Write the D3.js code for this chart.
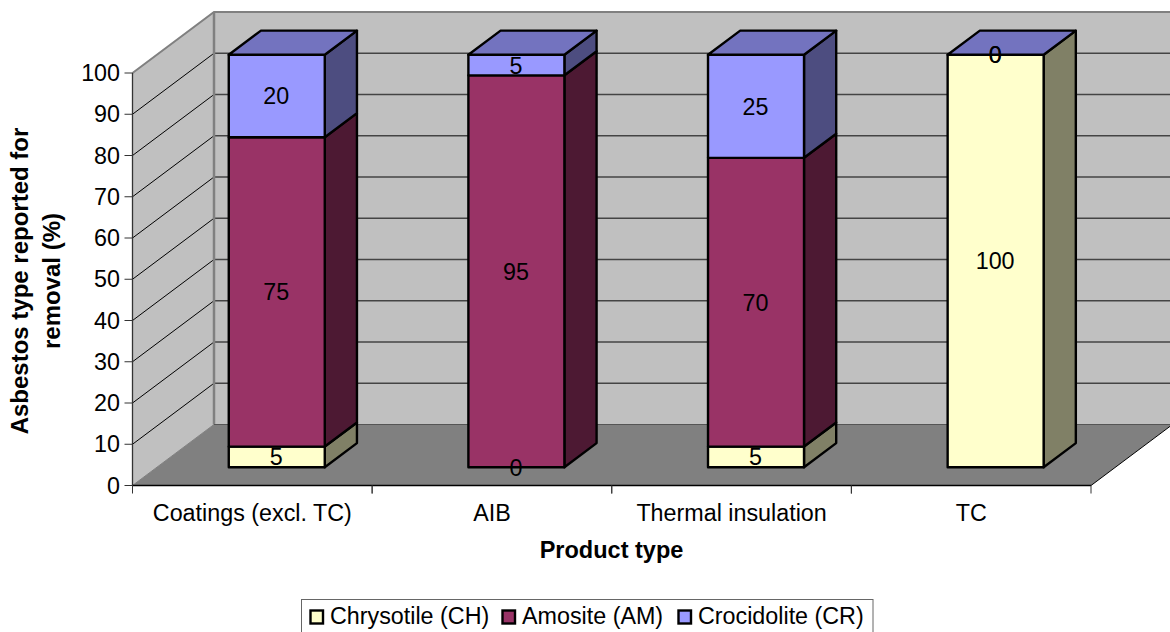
<!DOCTYPE html>
<html><head><meta charset="utf-8">
<script src="https://cdnjs.cloudflare.com/ajax/libs/d3/7.8.5/d3.min.js"></script>
<style>html,body{margin:0;padding:0;background:#fff;overflow:hidden}svg{display:block}text{font-family:"Liberation Sans",Arial,sans-serif;fill:#000}</style>
</head><body><svg id="c" width="1170" height="632"></svg>
<script>
const categories = ["Coatings (excl. TC)", "AIB", "Thermal insulation", "TC"];
const seriesNames = ["Chrysotile (CH)", "Amosite (AM)", "Crocidolite (CR)"];
const chrysotile = [5, 0, 5, 100];
const amosite = [75, 95, 70, 0];
const crocidolite = [20, 5, 25, 0];
const yTicks = [0,10,20,30,40,50,60,70,80,90,100];
const frontColors = ["#ffffcc", "#993366", "#9999ff"];
const sideColors = ["#808066", "#4d1933", "#4d4d80"];
const topColor = "#7373bf";
const series = [chrysotile, amosite, crocidolite];

const svg = d3.select("#c");
const FS = 23.3, FSB = 23.5;
const x = d3.scaleBand().domain(categories).range([132.5, 1091]);
const y = d3.scaleLinear().domain([0, 100]).range([485.5, 73]);
const z = d3.scaleLinear().domain([0, 1]).range([[0, 0], [81.5, -61]]);
const P = (px, py, d) => { const o = z(d); return [px + o[0], py + o[1]]; };
const poly = pts => "M" + pts.map(p => p.join(",")).join("L") + "Z";
const txt = (s, px, py, anchor, bold, rot, size) => svg.append("text")
  .attr("transform", `translate(${px},${py})` + (rot ? ` rotate(${rot})` : ""))
  .attr("text-anchor", anchor).attr("font-size", size || (bold ? FSB : FS)).attr("font-weight", bold ? "bold" : null).text(s);

const X0 = x.range()[0], X1 = x.range()[1], Y0 = y(0), Y1 = y(100);
svg.append("path").attr("d", poly([P(X0,Y1,0),P(X0,Y1,1),P(X0,Y0,1),P(X0,Y0,0)])).attr("fill","#c0c0c0");
svg.append("path").attr("d", poly([P(X0,Y1,1),P(X1,Y1,1),P(X1,Y0,1),P(X0,Y0,1)])).attr("fill","#c0c0c0");
svg.append("path").attr("d", poly([P(X0,Y0,0),P(X0,Y0,1),P(X1,Y0,1),P(X1,Y0,0)])).attr("fill","#808080");
yTicks.forEach(t => {
  if (t > 0 && t < 100) {
    svg.append("path").attr("d", "M"+P(X0,y(t),0)+"L"+P(X0,y(t),1)).attr("stroke","#000").attr("stroke-width",1).attr("fill","none");
    svg.append("path").attr("d", "M"+P(X0,y(t),1)+"L"+P(X1,y(t),1)).attr("stroke","#444").attr("stroke-width",1.3).attr("fill","none");
  }
});
svg.append("path").attr("d","M"+P(X0,Y1,0)+"L"+P(X0,Y1,1)+"L"+P(X1,Y1,1)).attr("stroke","#808080").attr("stroke-width",2).attr("fill","none");
svg.append("path").attr("d","M"+P(X0,Y1,1)+"L"+P(X0,Y0,1)).attr("stroke","#808080").attr("stroke-width",2.5).attr("fill","none");
svg.append("path").attr("d","M"+P(X0,Y0,1)+"L"+P(X1,Y0,1)).attr("stroke","#555").attr("stroke-width",1).attr("fill","none");
svg.append("path").attr("d","M"+P(X0,Y0,0)+"L"+P(X0,Y0,1)).attr("stroke","#808080").attr("stroke-width",1).attr("fill","none");
svg.append("path").attr("d","M"+P(X1,Y0,0)+"L"+P(X1,Y0,1)).attr("stroke","#000").attr("stroke-width",1).attr("fill","none");

const D0 = 0.30, D1 = 0.695, barW = 96, SW = 2.4;
categories.forEach((c, i) => {
  const left = x(c) + (x.bandwidth() - barW) / 2;
  const right = left + barW;
  let acc = 0;
  const lbls = [];
  series.forEach((s, k) => {
    const v = s[i], a = acc, b = acc + v;
    acc = b;
    const g = svg.append("g").attr("stroke","#000").attr("stroke-width",SW).attr("stroke-linejoin","round");
    if (v > 0) {
      g.append("path").attr("fill", sideColors[k]).attr("d", poly([P(right,y(a),D0),P(right,y(a),D1),P(right,y(b),D1),P(right,y(b),D0)]));
      g.append("path").attr("fill", frontColors[k]).attr("d", poly([P(left,y(a),D0),P(right,y(a),D0),P(right,y(b),D0),P(left,y(b),D0)]));
    }
    lbls.push({v, px: P((left+right)/2, y((a+b)/2), D0)});
  });
  svg.append("path").attr("fill", topColor).attr("stroke","#000").attr("stroke-width",SW).attr("stroke-linejoin","round")
    .attr("d", poly([P(left,y(acc),D0),P(right,y(acc),D0),P(right,y(acc),D1),P(left,y(acc),D1)]));
  lbls.forEach(l => txt(String(l.v), l.px[0] - 0.5, l.px[1] + 8.5, "middle"));
});

svg.append("path").attr("d",`M${X0},${Y1}V${Y0}`).attr("stroke","#333").attr("stroke-width",1.3).attr("fill","none");
svg.append("path").attr("d",`M${X0},${Y0}H${X1}`).attr("stroke","#000").attr("stroke-width",1.6).attr("fill","none");
yTicks.forEach(t => {
  svg.append("path").attr("d",`M${X0-8},${y(t)}H${X0}`).attr("stroke","#333").attr("stroke-width",1).attr("fill","none");
  txt(String(t), X0-12.5, y(t)+8, "end");
});
categories.forEach(c => {
  [x(c), x(c)+x.bandwidth()].forEach(px => svg.append("path").attr("d",`M${px},${Y0}V${Y0+8}`).attr("stroke","#333").attr("stroke-width",1).attr("fill","none"));
  txt(c, x(c)+x.bandwidth()/2, 520.5, "middle");
});
txt("Product type", 611.5, 558, "middle", true);
txt("Asbestos type reported for", 28, 281, "middle", true, -90, 24);
txt("removal (%)", 60, 281, "middle", true, -90, 24);

svg.append("rect").attr("x",301.5).attr("y",599.5).attr("width",571.5).attr("height",40).attr("fill","#fff").attr("stroke","#666").attr("stroke-width",1);
const lx = [310.5, 502.5, 678.5];
seriesNames.forEach((n,i) => {
  svg.append("rect").attr("x",lx[i]).attr("y",610.5).attr("width",12.5).attr("height",13).attr("fill",frontColors[i]).attr("stroke","#000").attr("stroke-width",2.4);
  txt(n, lx[i]+19.5, 624, "start");
});
</script></body></html>
